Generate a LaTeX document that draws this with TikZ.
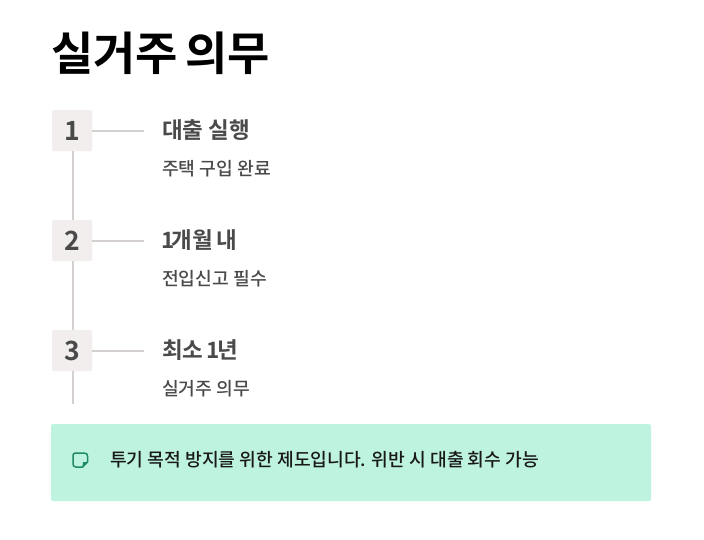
\documentclass[tikz,border=0pt]{standalone}
\usepackage{fontspec}
\setmainfont{Noto Sans CJK KR}
\newfontfamily\krbold{Noto Sans CJK KR Bold}
\newfontfamily\krmed{Noto Sans CJK KR Medium}
\definecolor{ink}{HTML}{4A4A4A}
\definecolor{boxfill}{HTML}{F1EEED}
\definecolor{rulec}{HTML}{D5D0D0}
\definecolor{calloutfill}{HTML}{BEF3DF}
\definecolor{iconc}{HTML}{1F8A68}
\tikzset{
  x=1pt,y=-1pt,
  numbox/.style={fill=boxfill,rounded corners=1.5pt,minimum width=40pt,minimum height=41pt,inner sep=0pt,text=ink,font=\krbold\fontsize{26.5}{30}\selectfont},
  rulel/.style={draw=rulec,line width=1.5pt},
  headt/.style={anchor=base west,inner sep=0pt,text=ink,font=\krbold\fontsize{22.5}{25}\selectfont},
  subt/.style={anchor=base west,inner sep=0pt,text=ink,font=\krmed\fontsize{18.2}{21}\selectfont},
}
\begin{document}
\begin{tikzpicture}
\useasboundingbox (0,0) rectangle (704,539);
\fill[white] (0,0) rectangle (704,539);
\node[anchor=base west,inner sep=0pt,font=\krbold\fontsize{46}{55}\selectfont] (title) at (51,70.5) {\spaceskip 7.5pt\relax 실거주 의무};
\node[numbox] (n1) at (72,130.5) {\hspace{1pt}1};
\node[numbox] (n2) at (72,240.5) {\hspace{1pt}2};
\node[numbox] (n3) at (72,350.5) {\hspace{1pt}3};
\coordinate (end) at (73,404);
\coordinate (h1) at (144,131);
\coordinate (h2) at (144,241);
\coordinate (h3) at (144,351);
\draw[rulel] (n1.south -| end) -- (n2.north -| end);
\draw[rulel] (n2.south -| end) -- (n3.north -| end);
\draw[rulel] (n3.south -| end) -- (end);
\draw[rulel] (n1.east |- h1) -- (h1);
\draw[rulel] (n2.east |- h2) -- (h2);
\draw[rulel] (n3.east |- h3) -- (h3);
\node[headt] (a1) at (162,138) {대출 실행};
\node[subt] (b1) at (162,175.5) {주택 구입 완료};
\node[headt] (a2) at (161,248) {1\kern-2.5pt 개월 \kern-1.5pt 내};
\node[subt] (b2) at (162,285.5) {전입신고 필수};
\node[headt] (a3) at (162,358) {최소 \kern-2pt 1\kern-2.5pt 년};
\node[subt] (b3) at (162,395.5) {실거주 의무};
\node[fill=calloutfill,rounded corners=2pt,minimum width=600pt,minimum height=77pt,inner sep=0pt] (call) at (351,462.5) {};
\draw[iconc,line width=1.5pt,line join=round] (75.5,453) -- (84,453) .. controls (86.5,453) and (87.5,454) .. (87.5,456) -- (87.5,462) -- (82.5,467) -- (76,467) .. controls (74,467) and (73,466) .. (73,464) -- (73,455.5) .. controls (73,454) and (74,453) .. (75.5,453) -- cycle;
\fill[iconc] (82.5,467) -- (87.5,462) -- (83,462) -- cycle;
\node[anchor=base west,inner sep=0pt,text=black!90,font=\krmed\fontsize{18.2}{21}\selectfont] (ct) at (110,466.5) {투기 목적 방지를 위한 제도입니다. 위반 시 대출 회수 가능};
\end{tikzpicture}
\end{document}
